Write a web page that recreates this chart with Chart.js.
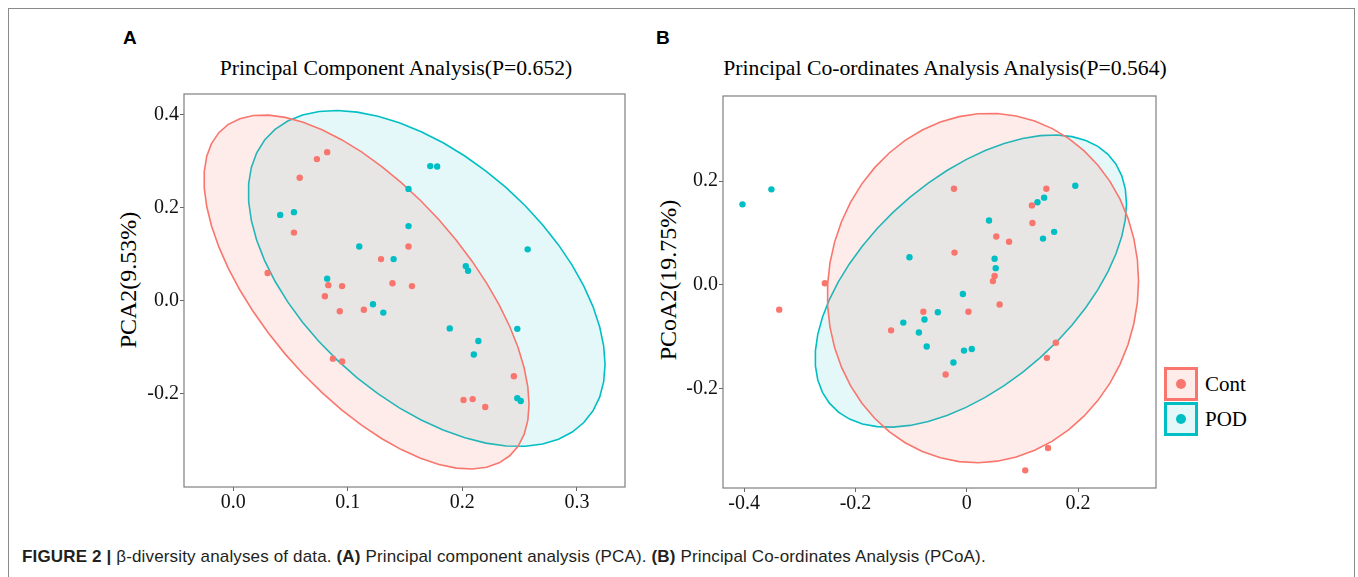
<!DOCTYPE html>
<html>
<head>
<meta charset="utf-8">
<script src="https://cdn.jsdelivr.net/npm/chart.js@4.4.1/dist/chart.umd.min.js"></script>
<style>
  body { margin: 0; background: #fff; width: 1358px; height: 577px; position: relative; overflow: hidden; }
  .frame { position: absolute; left: 8px; top: 8px; width: 1345px; height: 620px; border: 1.5px solid #8a8a8a; border-bottom: none; }
  .letter { position: absolute; font: bold 19px "Liberation Sans", Arial, sans-serif; line-height: 20px; color: #000; }
  .ptitle { position: absolute; font: 21.7px "Liberation Serif", "Times New Roman", serif; line-height: 26px; white-space: nowrap; transform: translateX(-50%); color: #000; }
  .ytitle { position: absolute; font: 24px "Liberation Serif", "Times New Roman", serif; line-height: 28px; white-space: nowrap; transform: translate(-50%, -50%) rotate(-90deg); color: #000; }
  canvas { position: absolute; }
  .lg-box { position: absolute; width: 28px; height: 28px; border: 3px solid; }
  .lg-dot { position: absolute; left: 9px; top: 9px; width: 10px; height: 10px; border-radius: 50%; }
  .lg-text { position: absolute; font: 21px "Liberation Serif", "Times New Roman", serif; line-height: 24px; color: #000; }
  .caption { position: absolute; left: 22px; top: 547px; font: 17px "Liberation Sans", Arial, sans-serif; letter-spacing: 0.15px; color: #231f20; white-space: nowrap; }
</style>
</head>
<body>
<div class="frame"></div>
<div class="letter" style="left:123px; top:28px;">A</div>
<div class="letter" style="left:656px; top:28px;">B</div>
<div class="ptitle" style="left:396px; top:55px;">Principal Component Analysis(P=0.652)</div>
<div class="ptitle" style="left:945px; top:55px;">Principal Co-ordinates Analysis Analysis(P=0.564)</div>
<div class="ytitle" style="left:128px; top:280px;">PCA2(9.53%)</div>
<div class="ytitle" style="left:668px; top:280px;">PCoA2(19.75%)</div>

<canvas id="pcaChart" width="535" height="430" style="left:100px; top:90px;"></canvas>
<canvas id="pcoaChart" width="520" height="431" style="left:640px; top:90px;"></canvas>

<div id="legend"></div>

<div class="caption"><b>FIGURE 2 |</b> β-diversity analyses of data. <b>(A)</b> Principal component analysis (PCA). <b>(B)</b> Principal Co-ordinates Analysis (PCoA).</div>

<script>
// groups
const groups = ['Cont', 'POD'];
const groupColors = ['#F8766D', '#00BFC4'];
const groupFills = ['rgba(248,118,109,0.14)', 'rgba(0,191,196,0.1)'];

// panel A - PCA scores [PC1, PC2]
const pcaCont = [
  [0.082, 0.320], [0.073, 0.305], [0.058, 0.265], [0.053, 0.147], [0.030, 0.060],
  [0.153, 0.117], [0.129, 0.090], [0.083, 0.034], [0.095, 0.032], [0.080, 0.010],
  [0.139, 0.038], [0.156, 0.032], [0.093, -0.022], [0.114, -0.019], [0.087, -0.124],
  [0.095, -0.130], [0.245, -0.162], [0.201, -0.213], [0.209, -0.211], [0.220, -0.228]
];
const pcaPod = [
  [0.172, 0.290], [0.178, 0.289], [0.153, 0.241], [0.041, 0.185], [0.053, 0.191],
  [0.153, 0.161], [0.110, 0.117], [0.140, 0.090], [0.257, 0.111], [0.203, 0.075],
  [0.205, 0.065], [0.082, 0.048], [0.122, -0.007], [0.131, -0.025], [0.189, -0.059],
  [0.248, -0.060], [0.214, -0.086], [0.210, -0.115], [0.248, -0.209], [0.251, -0.215]
];
const pcaXTicks = [0, 0.1, 0.2, 0.3];
const pcaXLabels = ['0.0', '0.1', '0.2', '0.3'];
const pcaYTicks = [-0.2, 0, 0.2, 0.4];
const pcaYLabels = ['-0.2', '0.0', '0.2', '0.4'];

// panel B - PCoA scores [PCoA1, PCoA2]
const pcoaCont = [
  [-0.255, 0.003], [-0.337, -0.048], [-0.023, 0.185], [0.143, 0.185], [0.117, 0.153],
  [0.118, 0.119], [0.053, 0.093], [0.076, 0.083], [-0.022, 0.062], [0.050, 0.017],
  [0.047, 0.007], [0.059, -0.038], [-0.078, -0.052], [0.003, -0.052], [-0.136, -0.088],
  [-0.038, -0.173], [0.160, -0.112], [0.144, -0.141], [0.146, -0.315], [0.105, -0.358]
];
const pcoaPod = [
  [-0.403, 0.155], [-0.351, 0.184], [0.195, 0.191], [0.127, 0.159], [0.139, 0.168],
  [0.040, 0.124], [0.157, 0.102], [0.137, 0.089], [-0.103, 0.053], [0.050, 0.050],
  [0.052, 0.032], [-0.007, -0.018], [-0.052, -0.053], [-0.076, -0.067], [-0.114, -0.073],
  [-0.086, -0.092], [-0.072, -0.119], [-0.005, -0.127], [0.009, -0.124], [-0.024, -0.150]
];
const pcoaXTicks = [-0.4, -0.2, 0, 0.2];
const pcoaXLabels = ['-0.4', '-0.2', '0', '0.2'];
const pcoaYTicks = [-0.2, 0, 0.2];
const pcoaYLabels = ['-0.2', '0.0', '0.2'];

const serif = "'Liberation Serif', 'Times New Roman', serif";

// robust covariance like MASS::cov.trob (nu = 5), used by stat_ellipse(type = "t")
function covTrob(pts) {
  const n = pts.length, p = 2, nu = 5;
  let loc = [pts.reduce((s, q) => s + q[0], 0) / n, pts.reduce((s, q) => s + q[1], 0) / n];
  let w = new Array(n).fill(1);
  let X = [];
  for (let iter = 0; iter < 25; iter++) {
    const w0 = w.slice();
    X = pts.map(q => [q[0] - loc[0], q[1] - loc[1]]);
    const sw = w.reduce((s, v) => s + v, 0);
    let a = 0, b = 0, c = 0;
    X.forEach((d, i) => {
      const f = w[i] / sw;
      a += f * d[0] * d[0]; b += f * d[0] * d[1]; c += f * d[1] * d[1];
    });
    const det = a * c - b * b;
    const Q = X.map(d => (c * d[0] * d[0] - 2 * b * d[0] * d[1] + a * d[1] * d[1]) / det);
    w = Q.map(q => (nu + p) / (nu + q));
    const sw2 = w.reduce((s, v) => s + v, 0);
    loc = [
      pts.reduce((s, q, i) => s + w[i] * q[0], 0) / sw2,
      pts.reduce((s, q, i) => s + w[i] * q[1], 0) / sw2
    ];
    if (w.every((v, i) => Math.abs(v - w0[i]) < 0.01)) break;
  }
  let s11 = 0, s12 = 0, s22 = 0;
  X.forEach((d, i) => {
    s11 += w[i] * d[0] * d[0]; s12 += w[i] * d[0] * d[1]; s22 += w[i] * d[1] * d[1];
  });
  return { center: loc, cov: [s11 / n, s12 / n, s22 / n] };
}

function ellipsePoints(pts, level) {
  const fit = covTrob(pts);
  const dfd = pts.length - 1;
  const fq = (dfd / 2) * (Math.pow(1 - level, -2 / dfd) - 1); // qf(level, 2, dfd)
  const r = Math.sqrt(2 * fq);
  const a = Math.sqrt(fit.cov[0]);
  const b = fit.cov[1] / a;
  const c = Math.sqrt(fit.cov[2] - b * b);
  const out = [];
  for (let k = 0; k <= 51; k++) {
    const t = 2 * Math.PI * k / 51;
    out.push([fit.center[0] + r * Math.cos(t) * a, fit.center[1] + r * (Math.cos(t) * b + Math.sin(t) * c)]);
  }
  return out;
}

// draws the confidence ellipses of each dataset under the points
const ellipsePlugin = {
  id: 'ellipses',
  beforeDatasetsDraw(chart) {
    const { ctx, chartArea, scales: { x, y } } = chart;
    ctx.save();
    ctx.beginPath();
    ctx.rect(chartArea.left, chartArea.top, chartArea.right - chartArea.left, chartArea.bottom - chartArea.top);
    ctx.clip();
    // POD first, Cont on top (gives the warm grey overlap)
    [1, 0].forEach(i => {
      const ds = chart.data.datasets[i];
      const pts = ellipsePoints(ds.data.map(d => [d.x, d.y]), 0.95);
      ctx.beginPath();
      pts.forEach((p, k) => {
        const px = x.getPixelForValue(p[0]), py = y.getPixelForValue(p[1]);
        if (k === 0) ctx.moveTo(px, py); else ctx.lineTo(px, py);
      });
      ctx.closePath();
      ctx.fillStyle = groupFills[i];
      ctx.fill();
      ctx.strokeStyle = groupColors[i];
      ctx.lineWidth = 1.6;
      ctx.stroke();
    });
    ctx.restore();
  },
  afterDraw(chart) {
    // panel border
    const { ctx, chartArea } = chart;
    ctx.save();
    ctx.strokeStyle = '#7f7f7f';
    ctx.lineWidth = 1.2;
    ctx.strokeRect(chartArea.left, chartArea.top, chartArea.right - chartArea.left, chartArea.bottom - chartArea.top);
    ctx.restore();
  }
};

function makePanel(id, cont, pod, xRange, yRange, xTicks, xLabels, yTicks, yLabels, pad) {
  const toPts = arr => arr.map(([x, y]) => ({ x, y }));
  new Chart(document.getElementById(id), {
    type: 'scatter',
    data: {
      datasets: [
        { label: groups[0], data: toPts(cont), backgroundColor: groupColors[0], borderWidth: 0, pointRadius: 3.2 },
        { label: groups[1], data: toPts(pod), backgroundColor: groupColors[1], borderWidth: 0, pointRadius: 3.2 }
      ]
    },
    options: {
      responsive: false,
      animation: false,
      layout: { padding: { left: 0, top: pad.top, right: pad.right, bottom: 0 } },
      plugins: { legend: { display: false }, tooltip: { enabled: false } },
      scales: {
        x: {
          type: 'linear', min: xRange[0], max: xRange[1],
          afterBuildTicks: s => { s.ticks = xTicks.map(v => ({ value: v })); },
          afterFit: s => { s.height = 33; s.paddingLeft = 0; s.paddingRight = 0; },
          ticks: {
            callback: v => xLabels[xTicks.indexOf(v)],
            font: { family: serif, size: 20 }, color: '#111', padding: 0, maxRotation: 0
          },
          grid: { drawOnChartArea: false, tickLength: 4, color: '#666' },
          border: { display: false }
        },
        y: {
          type: 'linear', min: yRange[0], max: yRange[1],
          afterBuildTicks: s => { s.ticks = yTicks.map(v => ({ value: v })); },
          afterFit: s => { s.width = pad.yWidth; s.paddingTop = 0; s.paddingBottom = 0; },
          ticks: {
            callback: v => yLabels[yTicks.indexOf(v)],
            font: { family: serif, size: 20 }, color: '#111', padding: 1
          },
          grid: { drawOnChartArea: false, tickLength: 4, color: '#666' },
          border: { display: false }
        }
      }
    },
    plugins: [ellipsePlugin]
  });
}

makePanel('pcaChart', pcaCont, pcaPod, [-0.043, 0.342], [-0.40, 0.445],
  pcaXTicks, pcaXLabels, pcaYTicks, pcaYLabels,
  { top: 4, right: 10, yWidth: 84 });

makePanel('pcoaChart', pcoaCont, pcoaPod, [-0.438, 0.340], [-0.392, 0.364],
  pcoaXTicks, pcoaXLabels, pcoaYTicks, pcoaYLabels,
  { top: 6, right: 4, yWidth: 83 });

// legend
const legend = document.getElementById('legend');
groups.forEach((g, i) => {
  const top = 367 + i * 34.5;
  legend.innerHTML += `
    <div class="lg-box" style="left:1164px; top:${top}px; border-color:${groupColors[i]}; background:${groupFills[i]};">
      <div class="lg-dot" style="background:${groupColors[i]};"></div>
    </div>
    <div class="lg-text" style="left:1205px; top:${top + 5}px;">${g}</div>`;
});
</script>
</body>
</html>
